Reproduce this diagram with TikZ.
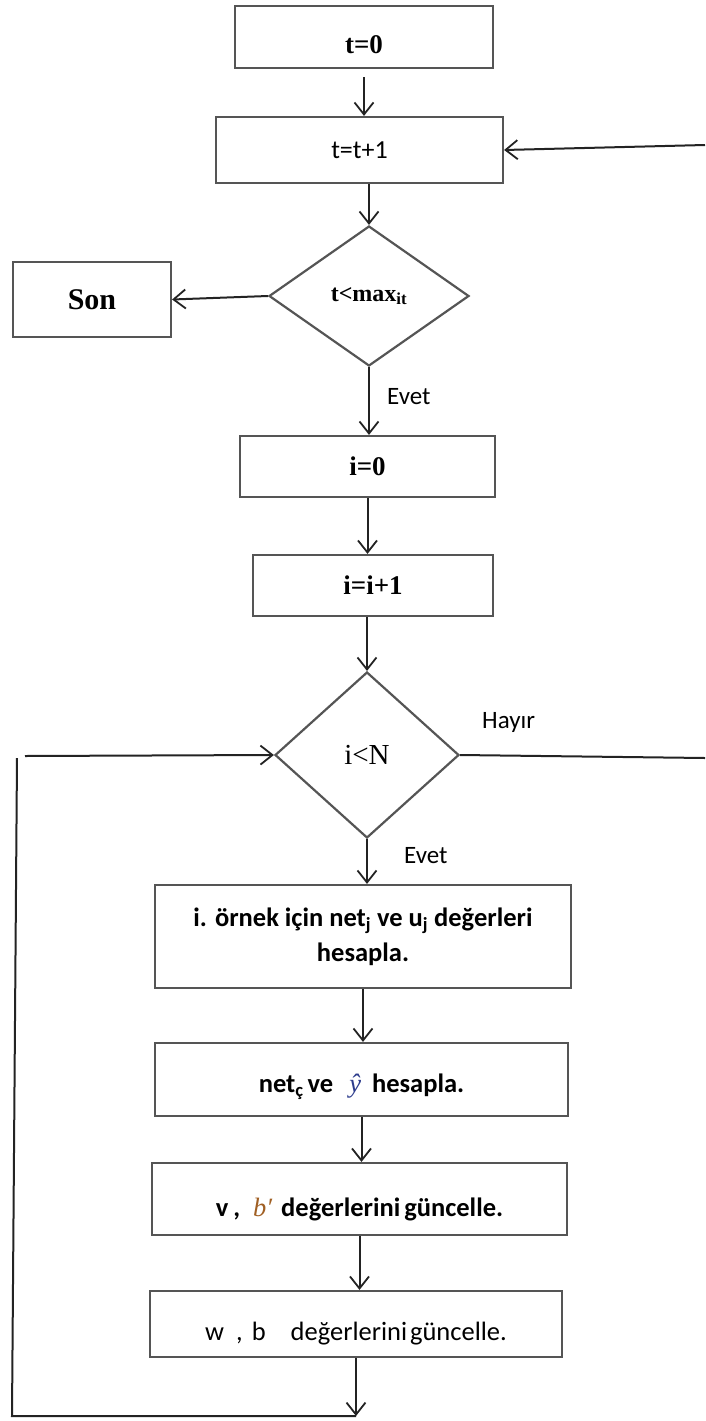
\documentclass[tikz,border=0pt]{standalone}
\usepackage{fontspec}
\setmainfont{Liberation Serif}
\newfontfamily\carl{Carlito}
\newfontfamily\symit[Ligatures=ResetAll]{Liberation Serif Italic}
\usetikzlibrary{shapes.geometric,arrows.meta}
\definecolor{boxline}{RGB}{85,85,85}
\definecolor{arrline}{RGB}{35,35,35}
\definecolor{hatblue}{RGB}{45,60,140}
\definecolor{primeorange}{RGB}{160,95,35}

\begin{document}
\begin{tikzpicture}[x=1pt,y=-1pt,
  box/.style={draw=boxline, line width=2.2pt, rectangle, inner sep=0pt, align=center},
  decision/.style={draw=boxline, line width=2.2pt, diamond, inner sep=0pt, aspect=1},
  arr/.style={draw=arrline, line width=2pt,
    -{Straight Barb[length=12pt,width=19pt,line width=1.8pt]}},
  link/.style={draw=arrline, line width=2pt},
  serifb/.style={font=\fontsize{27}{30}\selectfont\bfseries},
  sansr/.style={font=\carl\fontsize{25}{28}\selectfont},
  sansb/.style={font=\carl\bfseries\fontsize{26.5}{35}\selectfont},
  sink/.style={text height=#1, text depth=4pt},
]
\useasboundingbox (0,0) rectangle (705,1421);

% outer loop
\node[box, serifb, minimum width=258pt, minimum height=62pt, sink=36pt] (t0) at (364,37) {t=0};
\node[box, sansr, font=\carl\fontsize{26}{28}\selectfont, minimum width=287pt, minimum height=66pt] (tt1) at (359.5,150) {t=t+1};
\node[decision, minimum width=200pt, minimum height=140pt,
      font=\fontsize{24}{26}\selectfont\bfseries] (d1) at (369,296) {t<max\textsubscript{it}};
\node[box, minimum width=158pt, minimum height=75pt,
      font=\fontsize{30}{32}\selectfont\bfseries] (son) at (92,299.5) {Son};

% inner loop
\node[box, serifb, minimum width=255pt, minimum height=61pt] (i0) at (367.5,466.5) {i=0};
\node[box, serifb, minimum width=240pt, minimum height=61pt] (ii1) at (373,585.5) {i=i+1};
\node[decision, minimum width=184pt, minimum height=166pt,
      font=\fontsize{29}{30}\selectfont] (d2) at (367,755) {i<N};

\node[box, sansb, minimum width=416pt, minimum height=103pt] (b3) at (363,936.5)
  {i. örnek için net\textsubscript{j} ve u\textsubscript{j} değerleri\\hesapla.};
\node[box, sansb, minimum width=413pt, minimum height=73pt, sink=30pt] (b4) at (361.5,1079.5)
  {net\textsubscript{ç}\hspace{4pt}ve\hspace{16pt}{\symit\mdseries\color{hatblue}ŷ}\hspace{11pt}hesapla.};
\node[box, sansb, minimum width=415pt, minimum height=72pt, sink=38pt] (b5) at (359.5,1199)
  {v\hspace{5pt},\hspace{13pt}{\symit\mdseries\color{primeorange}b′}\hspace{9pt}değerlerini\hspace{4pt}güncelle.};
\node[box, font=\carl\fontsize{26.5}{30}\selectfont, minimum width=412pt, minimum height=66pt, sink=36pt]
  (b6) at (356,1324) {w\hspace{12pt},\hspace{9pt}b\hspace{25pt}değerlerini\hspace{3pt}güncelle.};

% labels
\node[sansr, anchor=west, inner sep=0pt] (e1) at (387,397) {Evet};
\node[sansr, anchor=west, inner sep=0pt] (e2) at (404,856) {Evet};
\node[sansr, anchor=west, inner sep=0pt] (hay) at (482,722) {Hayır};

% free ends of the loop lines
\coordinate (rin) at (705,145);
\coordinate (rout) at (705,758);
\coordinate (lt) at (25,756);
\coordinate (tl) at (17,758);
\coordinate (bl) at (12,1416);
\coordinate (bot) at (356,1416);

% connectors
\draw[arr, shorten <=8pt] (t0.south) -- (t0.south |- tt1.north);
\draw[arr] (rin) -- (tt1.east);
\draw[arr] (d1.north |- tt1.south) -- (d1.north);
\draw[arr] (d1.west) -- (son.east);
\draw[arr] (d1.south) -- (d1.south |- i0.north);
\draw[arr] (i0.south) -- (i0.south |- ii1.north);
\draw[arr] (d2.north |- ii1.south) -- (d2.north);
\draw[arr] (lt) -- (d2.west);
\draw[link] (d2.east) -- (rout);
\draw[arr] (d2.south) -- (d2.south |- b3.north);
\draw[arr] (b3.south) -- (b3.south |- b4.north);
\draw[arr] (b4.south) -- (b4.south |- b5.north);
\draw[arr] (b5.south) -- (b5.south |- b6.north);
\draw[arr] (b6.south -| bot) -- (bot);
\draw[link] (bot) -- (bl) -- (tl);
\end{tikzpicture}
\end{document}
